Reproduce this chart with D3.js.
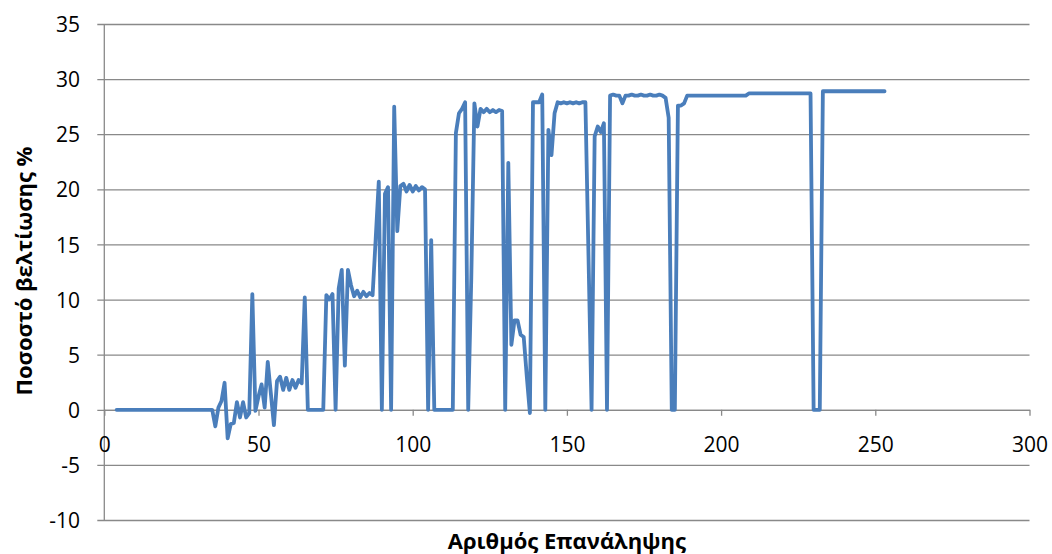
<!DOCTYPE html>
<html>
<head>
<meta charset="utf-8">
<script src="https://cdn.jsdelivr.net/npm/d3@7/dist/d3.min.js"></script>
<style>
  html, body { margin: 0; padding: 0; background: #ffffff; }
  svg { display: block; }
  text { font-family: "Open Sans", "Noto Sans", sans-serif; fill: #000; }
</style>
</head>
<body>
<svg id="chart" width="1052" height="554"></svg>
<script>
// Improvement percentage per iteration (iterations start at 4)
const firstIteration = 4;
const improvement = [
  // 4 - 35
  0, 0, 0, 0, 0, 0, 0, 0, 0, 0, 0, 0, 0, 0, 0, 0,
  0, 0, 0, 0, 0, 0, 0, 0, 0, 0, 0, 0, 0, 0, 0, 0,
  // 36 - 55
  -1.5, 0.2, 0.8, 2.45, -2.6, -1.3, -1.2, 0.7, -0.7, 0.7,
  -0.7, -0.3, 10.5, -0.1, 1.2, 2.3, 0.2, 4.35, 1.5, -1.4,
  // 56 - 75
  2.6, 3.0, 1.8, 2.9, 1.8, 2.7, 2.0, 2.7, 2.4, 10.2,
  0, 0, 0, 0, 0, 0, 10.4, 10.0, 10.5, 0,
  // 76 - 95
  11.0, 12.7, 4.0, 12.7, 11.3, 10.3, 10.8, 10.2, 10.7, 10.3,
  10.6, 10.4, 15.5, 20.7, 0, 19.6, 20.2, 0, 27.5, 16.2,
  // 96 - 115
  20.3, 20.5, 19.8, 20.4, 19.8, 20.3, 19.9, 20.2, 20.0, 0,
  15.4, 0, 0, 0, 0, 0, 0, 0, 25.1, 26.9,
  // 116 - 135
  27.3, 27.9, 0, 12, 27.8, 25.7, 27.3, 27.0, 27.3, 27.0,
  27.2, 27.0, 27.2, 27.1, 0, 22.4, 5.9, 8.1, 8.1, 6.8,
  // 136 - 155
  6.6, 3.0, -0.3, 27.9, 27.9, 27.9, 28.6, 0, 25.4, 23.1,
  26.9, 27.9, 27.8, 27.9, 27.8, 27.9, 27.8, 27.9, 27.8, 27.9,
  // 156 - 175
  27.9, 14, 0, 24.8, 25.7, 25.2, 26.0, 0, 28.5, 28.6,
  28.5, 28.5, 27.8, 28.5, 28.5, 28.6, 28.5, 28.5, 28.6, 28.5,
  // 176 - 195
  28.5, 28.6, 28.5, 28.5, 28.6, 28.5, 28.3, 26.5, 0, 0,
  27.6, 27.6, 27.8, 28.5, 28.5, 28.5, 28.5, 28.5, 28.5, 28.5,
  // 196 - 215
  28.5, 28.5, 28.5, 28.5, 28.5, 28.5, 28.5, 28.5, 28.5, 28.5,
  28.5, 28.5, 28.5, 28.7, 28.7, 28.7, 28.7, 28.7, 28.7, 28.7,
  // 216 - 235
  28.7, 28.7, 28.7, 28.7, 28.7, 28.7, 28.7, 28.7, 28.7, 28.7,
  28.7, 28.7, 28.7, 28.7, 0, 0, 0, 28.9, 28.9, 28.9,
  // 236 - 253
  28.9, 28.9, 28.9, 28.9, 28.9, 28.9, 28.9, 28.9, 28.9, 28.9,
  28.9, 28.9, 28.9, 28.9, 28.9, 28.9, 28.9, 28.9
];

const xTicks = [0, 50, 100, 150, 200, 250, 300];
const yTicks = [-10, -5, 0, 5, 10, 15, 20, 25, 30, 35];
const xTitle = "Αριθμός Επανάληψης";
const yTitle = "Ποσοστό βελτίωσης %";

const points = improvement.map((v, i) => ({ iter: firstIteration + i, value: v }));

const svg = d3.select("#chart");
const plotLeft = 104.3, plotRight = 1029.5, plotTop = 24, plotBottom = 520;
const gridColor = "#898989";
const plainNumber = d => String(d); // hyphen-minus, as in spreadsheet labels

const x = d3.scaleLinear().domain([0, 300]).range([plotLeft, plotRight]);
const y = d3.scaleLinear().domain([-10, 35]).range([plotBottom, plotTop]);

// horizontal gridlines, each carrying its small outward tick
const grid = svg.append("g")
  .attr("transform", `translate(${plotLeft - 7},0)`)
  .call(d3.axisLeft(y).tickValues(yTicks).tickSize(-(plotRight - plotLeft + 7)).tickFormat(""));
grid.select(".domain").remove();
grid.selectAll(".tick line").attr("stroke", gridColor).attr("stroke-width", 1.3);

// y tick labels
const yAxis = svg.append("g")
  .attr("transform", `translate(${plotLeft},0)`)
  .call(d3.axisLeft(y).tickValues(yTicks).tickFormat(plainNumber).tickSize(0).tickPadding(plotLeft - 80));
yAxis.select(".domain").remove();
yAxis.selectAll("text")
  .attr("dy", "0.36em")
  .style("font-size", "21px")
  .style("font-family", "'Open Sans', sans-serif");

// vertical axis line
svg.append("line")
  .attr("x1", x(0)).attr("x2", x(0))
  .attr("y1", y(35)).attr("y2", y(-10))
  .attr("stroke", gridColor).attr("stroke-width", 1.3);

// horizontal axis crossing at zero
const xAxis = svg.append("g")
  .attr("transform", `translate(0,${y(0)})`)
  .call(d3.axisBottom(x).tickValues(xTicks).tickFormat(plainNumber).tickSize(6).tickSizeOuter(0));
xAxis.select(".domain").attr("stroke", gridColor).attr("stroke-width", 1.3);
xAxis.selectAll(".tick line").attr("stroke", gridColor).attr("stroke-width", 1.3);
xAxis.selectAll("text")
  .attr("y", 34.5)
  .attr("dy", "0.36em")
  .style("font-size", "21px")
  .style("font-family", "'Open Sans', sans-serif");

// data line
const line = d3.line()
  .x(d => x(d.iter))
  .y(d => y(d.value));

svg.append("path")
  .datum(points)
  .attr("fill", "none")
  .attr("stroke", "#4A7EBB")
  .attr("stroke-width", 3.8)
  .attr("stroke-linejoin", "round")
  .attr("stroke-linecap", "round")
  .attr("d", line);

// axis titles
svg.append("text")
  .attr("x", (plotLeft + plotRight) / 2)
  .attr("y", 540)
  .attr("text-anchor", "middle")
  .attr("dominant-baseline", "central")
  .style("font-size", "22px")
  .style("font-weight", "bold")
  .text(xTitle);

svg.append("text")
  .attr("transform", `translate(23,271) rotate(-90)`)
  .attr("text-anchor", "middle")
  .attr("dominant-baseline", "central")
  .style("font-size", "22px")
  .style("font-weight", "bold")
  .text(yTitle);
</script>
</body>
</html>
